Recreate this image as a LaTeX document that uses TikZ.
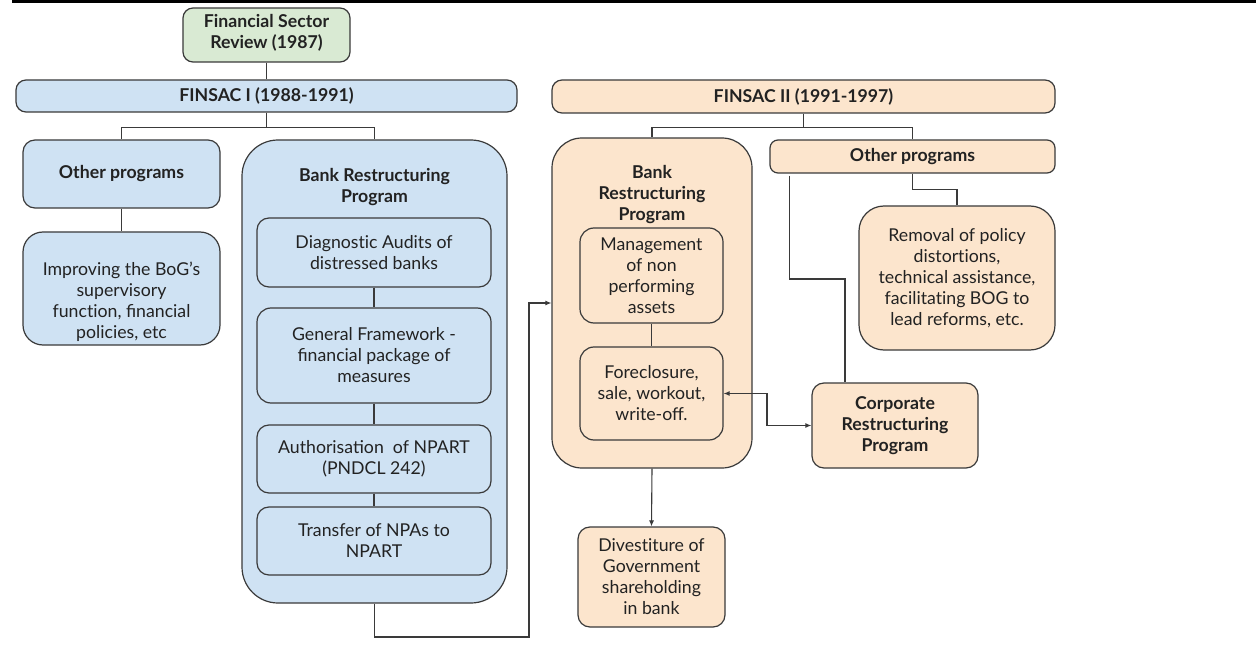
\documentclass[tikz,border=0pt]{standalone}
\usepackage{fontspec}
\setmainfont{Lato}
\usetikzlibrary{arrows.meta,calc}
\definecolor{bluefill}{HTML}{CFE2F3}
\definecolor{orangefill}{HTML}{FCE5CD}
\definecolor{greenfill}{HTML}{D9EAD3}
\definecolor{edgecol}{HTML}{3A3A3A}
\definecolor{txtcol}{HTML}{222222}
\newcommand{\nti}{t\kern0pt i}
\tikzset{
  box/.style={draw=edgecol, line width=1.2pt, rounded corners=10pt, align=center,
    inner sep=0pt, text=txtcol, font=\fontsize{17.7}{21}\selectfont},
  bbox/.style={box, font=\fontsize{17.7}{21}\selectfont\bfseries},
  blue/.style={fill=bluefill},
  orange/.style={fill=orangefill},
  green/.style={fill=greenfill},
  title/.style={align=center, inner sep=0pt, text=txtcol, font=\fontsize{17.7}{21}\selectfont\bfseries},
  plain/.style={align=center, inner sep=0pt, text=txtcol, font=\fontsize{17.7}{21}\selectfont},
  conn/.style={draw=edgecol, line width=1.1pt},
  arr/.style={conn, -{Latex[length=6pt,width=5pt]}},
  darr/.style={conn, {Latex[length=6pt,width=5pt]}-{Latex[length=6pt,width=5pt]}},
}
\begin{document}
\begin{tikzpicture}[x=1pt,y=-1pt]
\useasboundingbox (0,0) rectangle (1256,655);
\fill[white] (0,0) rectangle (1256,655);
\draw[line width=3pt, black] (12,2) -- (1256,2);

% top
\node[bbox, green, minimum width=167pt, minimum height=54pt] (fsr) at (266.5,35) {};
\node[title] (fsrt) at (266.5,33) {Financial Sector\\Review (1987)};
\node[bbox, blue, minimum width=501pt, minimum height=32pt] (f1) at (266.5,96) {FINSAC I (1988-1991)};
\node[bbox, orange, minimum width=503pt, minimum height=33pt] (f2) at (803.5,96.5) {FINSAC II (1991-1997)};

% FINSAC I branch
\node[bbox, blue, minimum width=197pt, minimum height=68pt, rounded corners=12pt] (op1) at (121.5,174) {Other programs};
\node[box, blue, minimum width=197pt, minimum height=113pt, rounded corners=20pt] (imp) at (121.5,288.5) {};
\node[plain] (impt) at (121.5,302) {Improving the BoG’s\\supervisory\\func\nti on, financial\\policies, etc};
\node[box, blue, minimum width=265pt, minimum height=463pt, rounded corners=36pt] (br1) at (374.5,371.5) {};
\node[title] (br1t) at (374.5,187.5) {Bank Restructuring\\Program};
\node[box, blue, minimum width=234pt, minimum height=69pt, rounded corners=12pt] (diag) at (374,252.5) {Diagnos\nti c Audits of\\distressed banks};
\node[box, blue, minimum width=234pt, minimum height=95pt, rounded corners=14pt] (gen) at (374,355.5) {General Framework -\\financial package of\\measures};
\node[box, blue, minimum width=234pt, minimum height=68pt, rounded corners=12pt] (auth) at (374,459) {Authorisation\ \ of NPART\\(PNDCL 242)};
\node[box, blue, minimum width=234pt, minimum height=68pt, rounded corners=12pt] (trans) at (374,541) {Transfer of NPAs to\\NPART};

% FINSAC II branch
\node[box, orange, minimum width=200pt, minimum height=330pt, rounded corners=30pt] (br2) at (652,303) {};
\node[title] (br2t) at (652,195) {Bank\\Restructuring\\Program};
\node[box, orange, minimum width=143pt, minimum height=95pt, rounded corners=14pt] (mgmt) at (651.5,275.5) {Management\\of non\\performing\\assets};
\node[box, orange, minimum width=143pt, minimum height=93pt, rounded corners=14pt] (fore) at (651.5,393.5) {Foreclosure,\\sale, workout,\\write-off.};
\node[box, orange, minimum width=147pt, minimum height=100pt, rounded corners=12pt] (div) at (651.5,577) {Dives\nti ture of\\Government\\shareholding\\in bank};
\node[bbox, orange, minimum width=285pt, minimum height=33pt, rounded corners=8pt] (op2) at (912.5,156.5) {Other programs};
\node[box, orange, minimum width=196pt, minimum height=144pt, rounded corners=25pt] (rem) at (957,278) {Removal of policy\\distor\nti ons,\\technical assistance,\\facilita\nti ng BOG to\\lead reforms, etc.};
\node[bbox, orange, minimum width=166pt, minimum height=85pt, rounded corners=12pt] (corp) at (895,425.5) {Corporate\\Restructuring\\Program};

% connectors
\draw[conn] (fsr.south) -- (f1.north);
\draw[conn] (f1.south) -- ++(0,15) -| (op1.north);
\draw[conn] (f1.south) -- ++(0,15) -| (br1.north);
\draw[conn] (op1.south) -- (imp.north);
\draw[conn] (diag.south) -- (gen.north);
\draw[conn] (gen.south) -- (auth.north);
\draw[conn] (auth.south) -- (trans.north);
\coordinate (j1) at (529,637);
\draw[arr] (br1.south) |- (j1) |- (br2.west);

\draw[conn] (f2.south) -- ++(0,14) -| (br2.north);
\draw[conn] (f2.south) -- ++(0,14) -| (op2.north);
\draw[conn] (mgmt.south) -- (fore.north);
\draw[arr] (br2.south) -- (div.north);
\draw[conn] (op2.south) -- ++(0,16) -| (rem.north);
\coordinate (k1) at (845,279);
\draw[conn] ([xshift=20pt,yshift=-2pt]op2.south west) |- (k1) -- (k1 |- corp.north);
\coordinate (m1) at (767,410);
\draw[darr] (fore.east) -| (m1) |- (corp.west);
\end{tikzpicture}
\end{document}
